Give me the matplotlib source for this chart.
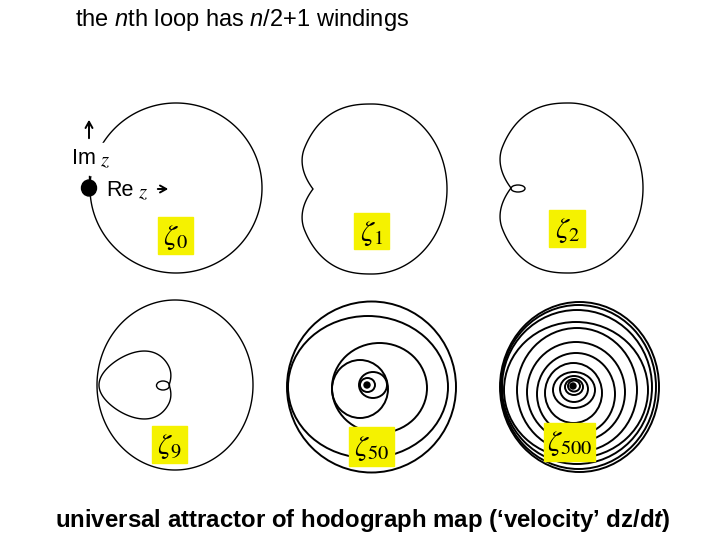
import numpy as np
import matplotlib.pyplot as plt
from matplotlib.patches import Ellipse, Rectangle, Polygon

plt.rcParams['mathtext.fontset'] = 'custom'
plt.rcParams['mathtext.rm'] = 'Liberation Sans'
plt.rcParams['mathtext.it'] = 'Liberation Sans:italic'
plt.rcParams['mathtext.bf'] = 'Liberation Sans:bold'
plt.rcParams['mathtext.bfit'] = 'Liberation Sans:bold:italic'

# loop labels (zeta_n)
labels = ['0', '1', '2', '9', '50', '500']

# outer loop of each curve, relative to panel centre: (dx, dy, rx, ry)
outer = [(0, 0, 86, 85), (0, 0, 75, 85), (0, 0, 74, 85), (0, 0, 78, 85)]
# depth of the dent (cusp) on the outer loop, negative = left side
dent = [0, -16, -16, 0]

# zeta_2: small loop replacing the cusp
z2_loop = (-51, 0.5, 7, 3.5)
# zeta_9: inner heart (dx, dy, rx, ry), its right dent and its tiny loop
z9_heart = (-39, 0, 37, 33)
z9_heart_dent = 4
z9_loop = (-12, 0.5, 6.5, 4.5)

# zeta_50 windings (dx, dy, rx, ry)
z50_rings = [(0.5, 1, 84.5, 85.5), (-3, 1, 80, 71), (8.5, 2, 47.5, 45),
             (-11, 3, 28, 29), (2, -1, 14, 13), (-3.5, -1, 7.5, 7)]
z50_dot = (-4, -1, 3)

# zeta_500 windings
z500_rings = [(7.5, 1, 79.5, 85), (6.5, 1, 77.5, 82), (5, 1, 75, 77),
              (4, 4, 72, 68), (5, 4, 60, 62), (4, 6, 49, 50),
              (4, 8, 39, 41), (1.5, 7, 28.5, 30), (2, 4, 21, 18),
              (2, 3, 14, 13), (2, 1, 9, 8), (2, 0, 6, 5.5)]
z500_dot = (1, 0, 3)


def dented(cx, cy, rx, ry, depth, w=0.5, egg=0.0, p=1.0):
    t = np.linspace(0, 2 * np.pi, 800, endpoint=False)
    c = np.cos(t)
    x = rx * np.sign(c) * np.abs(c) ** np.where(c < 0, p, 1.0)
    y = ry * np.sin(t) * (1 + egg * c)
    if depth < 0:
        d = np.abs(t - np.pi)
        x = x - depth * np.clip(1 - d / w, 0, None) ** 2
    elif depth > 0:
        d = np.minimum(t, 2 * np.pi - t)
        x = x - depth * np.clip(1 - d / w, 0, None) ** 2
    return np.column_stack([cx + x, cy + y])


fig = plt.figure(figsize=(7.2, 5.4), dpi=100)
ax = fig.add_axes([0, 0, 1, 1])
ax.set_xlim(0, 720)
ax.set_ylim(540, 0)
ax.axis('off')

centres = [(176, 188), (372, 189), (569, 188), (175, 385), (371, 386), (572, 386)]
boxes = [(158, 217, 35, 37), (354, 213, 35, 36), (549, 210, 36, 37),
         (152, 426, 35, 37), (349, 427, 45, 39), (544, 423, 51, 38)]

lw = 1.0
for i in range(4):
    cx, cy = centres[i]
    dx, dy, rx, ry = outer[i]
    pts = dented(cx + dx, cy + dy, rx, ry, dent[i], w=0.5, p=0.8 if dent[i] else 1.0)
    ax.add_patch(Polygon(pts, closed=True, fill=False, ec='black', lw=lw))

cx, cy = centres[2]
dx, dy, rx, ry = z2_loop
ax.add_patch(Ellipse((cx + dx, cy + dy), 2 * rx, 2 * ry, fill=False, lw=lw, ec='black'))

cx, cy = centres[3]
dx, dy, rx, ry = z9_heart
pts = dented(cx + dx, cy + dy, rx, ry, z9_heart_dent, w=0.5, egg=0.25)
ax.add_patch(Polygon(pts, closed=True, fill=False, ec='black', lw=lw))
dx, dy, rx, ry = z9_loop
ax.add_patch(Ellipse((cx + dx, cy + dy), 2 * rx, 2 * ry, fill=False, lw=lw, ec='black'))

for k, (rings, dot) in enumerate([(z50_rings, z50_dot), (z500_rings, z500_dot)]):
    cx, cy = centres[4 + k]
    for dx, dy, rx, ry in rings:
        ax.add_patch(Ellipse((cx + dx, cy + dy), 2 * rx, 2 * ry, fill=False,
                             lw=1.4, ec='black'))
    ax.add_patch(Ellipse((cx + dot[0], cy + dot[1]), 2 * dot[2], 2 * dot[2],
                         color='black'))

for lab, (bx, by, bw, bh) in zip(labels, boxes):
    ax.add_patch(Rectangle((bx, by), bw, bh, color='#f5f200', zorder=3))
    ax.text(bx + bw / 2, by + bh / 2 + 2, r'$\zeta_{%s}$' % lab, fontsize=21,
            ha='center', va='center', zorder=4, math_fontfamily='stix')

# axis hints on the first panel
ax.add_patch(Rectangle((70, 143), 48, 32, color='white', zorder=4))
ax.add_patch(Rectangle((104, 180), 50, 20, color='white', zorder=4))
ax.add_patch(Ellipse((89, 188), 15, 16, color='black', zorder=5))
ax.text(72, 159, 'Im', fontsize=15.5, family='Liberation Sans', va='center',
        ha='left', zorder=5)
ax.text(100, 160, r'$z$', fontsize=15, va='center', ha='left', zorder=6,
        math_fontfamily='stix')
ax.text(106, 191, 'Re', fontsize=15.5, family='Liberation Sans', va='center',
        ha='left', zorder=5)
ax.text(138, 192, r'$z$', fontsize=15, va='center', ha='left', zorder=6,
        math_fontfamily='stix')
head = '->,head_length=0.45,head_width=0.25'
ax.annotate('', xy=(171, 189), xytext=(155, 189),
            arrowprops=dict(arrowstyle=head, lw=1.4, color='black'), zorder=6)
ax.annotate('', xy=(89, 117), xytext=(89, 141),
            arrowprops=dict(arrowstyle=head, lw=1.4, color='black'))
ax.plot([89, 89], [176, 188], color='black', lw=lw, zorder=5)

ax.text(75, 20, r'the $\mathit{n}$th loop has $\mathit{n}$/2+1 windings', fontsize=17,
        family='Liberation Sans', va='center')
ax.text(55, 521, r'universal attractor of hodograph map (‘velocity’ dz/d$\mathbfit{t}$)',
        fontsize=17.3, family='Liberation Sans', weight='bold', va='center')

fig.savefig('out.png', dpi=100)
